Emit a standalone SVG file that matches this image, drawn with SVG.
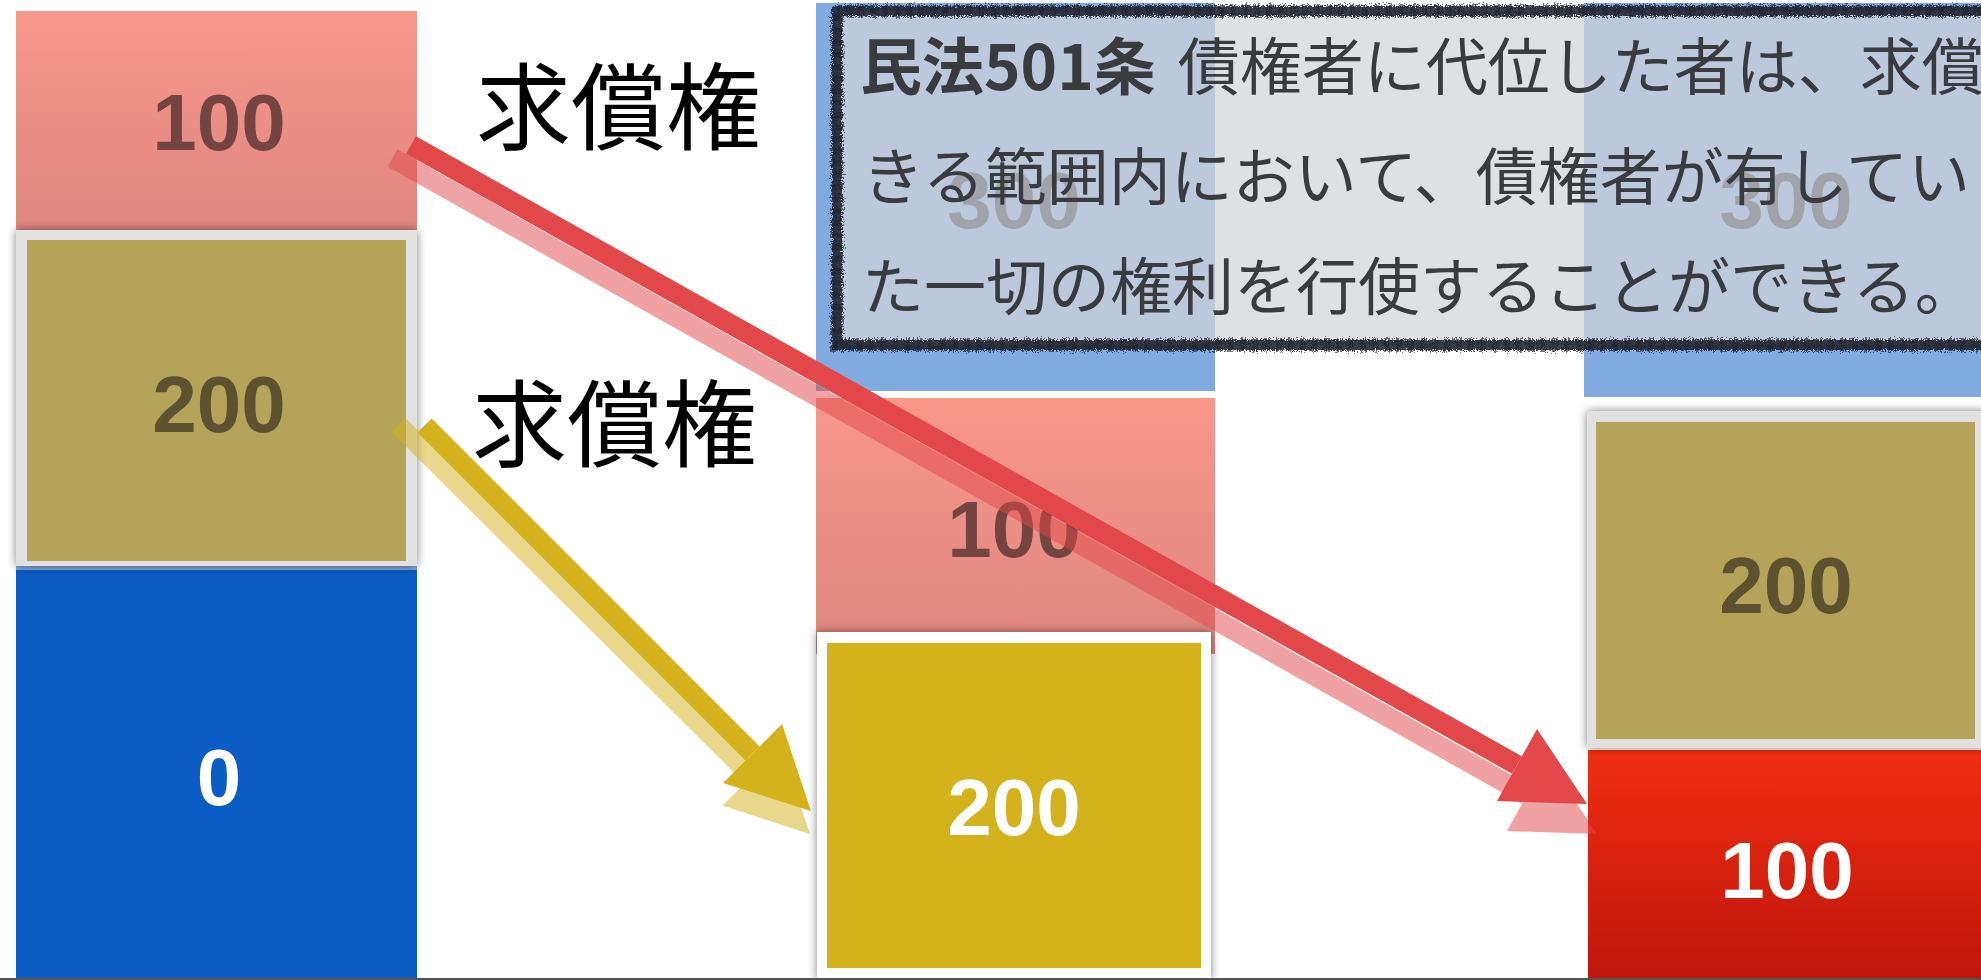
<svg xmlns="http://www.w3.org/2000/svg" width="1981" height="980" viewBox="0 0 1981 980">
<style>
.num{font-family:"Liberation Sans",Arial,sans-serif;font-weight:bold;font-size:80px;text-anchor:middle}
.dk1{fill:#744540}
.dk2{fill:#5C5230}
.wh{fill:#FFFFFF}
.n300{fill:#1E2430}
.lbl{font-family:"Noto Sans CJK JP","Noto Sans CJK SC",sans-serif;font-size:95px;fill:#000}
.law{font-family:"Noto Sans CJK JP","Noto Sans CJK SC",sans-serif;font-size:62px;fill:#3A3B3E}
.blue{fill:#80AAE0}
.olive{fill:#B5A359}
.frame{fill:#E1E1E1}
.redL{stroke:#E2474A;stroke-width:20;fill:none}
.redH{fill:#E2474A}
.yelL{stroke:#D4B21C;stroke-width:20;fill:none}
.yelH{fill:#D4B21C}
.ghost{opacity:0.5}
</style>
<defs>
<linearGradient id="pinkG" x1="0" y1="0" x2="0" y2="1">
<stop offset="0" stop-color="#F9978A"/>
<stop offset="1" stop-color="#DE8681"/>
</linearGradient>
<linearGradient id="redG" x1="0" y1="0" x2="0" y2="1">
<stop offset="0" stop-color="#EF2E12"/>
<stop offset="1" stop-color="#BF150B"/>
</linearGradient>
<filter id="sh" x="-10%" y="-10%" width="120%" height="120%">
<feGaussianBlur in="SourceAlpha" stdDeviation="5"/>
<feComponentTransfer><feFuncA type="linear" slope="0.5"/></feComponentTransfer>
<feMerge><feMergeNode/><feMergeNode in="SourceGraphic"/></feMerge>
</filter>
<filter id="rough" x="-5%" y="-5%" width="110%" height="110%">
<feTurbulence type="fractalNoise" baseFrequency="0.9" numOctaves="2" seed="3"/>
<feDisplacementMap in="SourceGraphic" scale="7" xChannelSelector="R" yChannelSelector="G"/>
</filter>
</defs>
<rect width="1981" height="980" fill="#FFFFFF"/>

<!-- left column -->
<g id="left-100">
<rect x="16" y="11" width="401" height="222" fill="url(#pinkG)"/>
<text class="num dk1" x="219" y="150">100</text>
</g>
<g id="left-0">
<rect x="16" y="566" width="401" height="414" fill="#0B5CC4"/>
<rect x="16" y="566" width="401" height="4" fill="#7FA6D8"/>
<text class="num wh" x="219" y="805">0</text>
</g>
<g id="left-200">
<rect class="frame" x="16" y="230" width="401" height="336" filter="url(#sh)"/>
<rect class="olive" x="27" y="240" width="379" height="321"/>
<text class="num dk2" x="219" y="432">200</text>
</g>

<!-- middle column -->
<g id="mid-300">
<rect class="blue" x="816" y="3" width="399" height="388"/>
<text class="num n300" x="1014" y="228">300</text>
</g>
<g id="mid-100">
<rect x="816" y="398" width="399" height="256" fill="url(#pinkG)"/>
<text class="num dk1" x="1014" y="557">100</text>
</g>
<g id="mid-200">
<rect x="817" y="632" width="394" height="348" fill="#FFFFFF" filter="url(#sh)"/>
<rect x="827" y="643" width="374" height="325" fill="#D4B21C"/>
<text class="num wh" x="1014" y="835">200</text>
</g>

<!-- right column -->
<g id="right-300">
<rect class="blue" x="1584" y="3" width="397" height="394"/>
<text class="num n300" x="1786" y="228">300</text>
</g>
<g id="right-100">
<rect x="1588" y="750" width="393" height="230" fill="url(#redG)"/>
<text class="num wh" x="1787" y="898">100</text>
</g>
<g id="right-200">
<rect class="frame" x="1587" y="411" width="400" height="337" filter="url(#sh)"/>
<rect class="olive" x="1596" y="422" width="379" height="317"/>
<text class="num dk2" x="1786" y="613">200</text>
</g>

<!-- labels -->
<g id="label-1"><text class="lbl" x="476" y="143">求償権</text></g>
<g id="label-2"><text class="lbl" x="472" y="460">求償権</text></g>

<!-- connectors -->
<g id="connectors">
<g class="ghost">
<line class="redL" x1="392.5" y1="158" x2="1527" y2="795"/>
<polygon class="redH" points="1597,834 1547,759 1507,831"/>
<line class="yelL" x1="398.5" y1="425" x2="751.8" y2="776.2"/>
<polygon class="yelH" points="810,834 781,746.8 722.6,805.6"/>
</g>
<line class="redL" x1="411" y1="145" x2="1517" y2="765"/>
<polygon class="redH" points="1587,804 1537,729 1497,801"/>
<line class="yelL" x1="424.5" y1="425.5" x2="752.5" y2="753.5"/>
<polygon class="yelH" points="811,811 782,724 723,783"/>
</g>

<!-- callout -->
<g id="callout">
<rect x="837" y="11" width="1170" height="334" fill="rgb(211,212,218)" fill-opacity="0.72"/>
<rect x="837" y="11" width="1170" height="334" fill="none" stroke="#1A1D28" stroke-opacity="0.85" stroke-width="10" filter="url(#rough)"/>
<rect x="837" y="11" width="1170" height="334" fill="none" stroke="#1A1D28" stroke-opacity="0.6" stroke-width="14" stroke-dasharray="3 2 1 3 2 1" filter="url(#rough)"/>
<text class="law" x="860" y="90"><tspan font-weight="bold">民法501条</tspan><tspan dx="8"> 債権者に代位した者は、求償</tspan></text>
<text class="law" x="862" y="200">きる範囲内において、債権者が有してい</text>
<text class="law" x="862" y="310">た一切の権利を行使することができる。</text>
</g>

<line x1="0" y1="979" x2="1981" y2="979" stroke="#555" stroke-width="2"/>
</svg>
